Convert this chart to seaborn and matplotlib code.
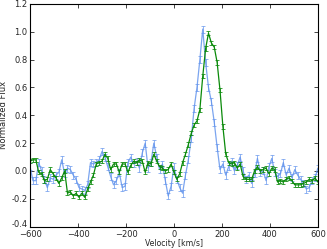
import numpy as np
import pandas as pd
import matplotlib
matplotlib.use("Agg")
import matplotlib.pyplot as plt
import matplotlib.transforms as mtransforms
import seaborn as sns

# velocity grid [km/s]
velocity = [-600, -588, -576, -564, -552, -540, -528, -516, -504, -492,
            -480, -468, -456, -444, -432, -420, -408, -396, -384, -372,
            -360, -348, -336, -324, -312, -300, -288, -276, -264, -252,
            -240, -228, -216, -204, -192, -180, -168, -156, -144, -132,
            -120, -108, -96, -84, -72, -60, -48, -36, -24, -12,
            0, 12, 24, 36, 48, 60, 72, 84, 96, 108,
            120, 132, 144, 156, 168, 180, 192, 204, 216, 228,
            240, 252, 264, 276, 288, 300, 312, 324, 336, 348,
            360, 372, 384, 396, 408, 420, 432, 444, 456, 468,
            480, 492, 504, 516, 528, 540, 552, 564, 576, 588, 600]

flux_blue = [0.03, -0.07, -0.07, 0.06, 0.00, -0.06, -0.12, -0.05, -0.06, -0.03,
             -0.01, 0.08, -0.02, 0.02, 0.01, -0.03, -0.06, -0.12, -0.13, -0.14,
             -0.10, 0.06, 0.05, 0.06, 0.08, 0.14, 0.10, 0.03, -0.04, -0.10,
             -0.07, -0.01, -0.12, -0.11, 0.06, 0.10, 0.05, 0.07, 0.02, 0.13,
             0.20, 0.02, 0.06, 0.20, 0.10, 0.01, 0.05, -0.07, -0.18, -0.11,
             0.03, -0.06, -0.12, -0.16, -0.03, 0.08, 0.23, 0.45, 0.60, 0.80,
             1.02, 0.78, 0.60, 0.50, 0.35, 0.17, 0.01, 0.05, -0.03, 0.03,
             0.07, 0.00, 0.04, 0.10, 0.00, -0.06, -0.03, -0.09, -0.02, 0.09,
             -0.01, 0.00, -0.07, 0.03, 0.09, -0.01, -0.04, -0.02, 0.06, -0.03,
             0.02, -0.05, 0.01, -0.03, -0.06, -0.09, -0.13, -0.12, -0.07, -0.05, 0.02]

flux_green = [0.07, 0.08, 0.08, -0.01, -0.02, -0.07, -0.06, 0.01, -0.02, -0.05,
              -0.09, -0.05, 0.00, -0.16, -0.15, -0.18, -0.16, -0.19, -0.16, -0.19,
              -0.13, -0.08, -0.03, 0.05, 0.06, 0.07, 0.12, 0.09, 0.01, 0.05,
              0.05, -0.01, 0.05, 0.05, -0.01, 0.04, 0.07, 0.06, 0.08, 0.07,
              -0.01, 0.06, 0.05, 0.12, 0.07, 0.03, 0.02, 0.00, 0.01, 0.05,
              -0.01, -0.06, -0.02, 0.06, 0.12, 0.19, 0.27, 0.33, 0.36, 0.44,
              0.68, 0.88, 0.99, 0.92, 0.89, 0.78, 0.58, 0.32, 0.12, 0.06,
              0.05, 0.06, 0.02, 0.05, -0.04, -0.06, -0.06, -0.06, 0.00, 0.03,
              0.00, 0.01, 0.02, -0.02, 0.02, 0.01, -0.08, -0.07, -0.08, -0.06,
              -0.05, -0.07, -0.10, -0.10, -0.10, -0.09, -0.08, -0.06, -0.07, -0.05, -0.08]

err_blue = 0.025
err_green = 0.015

BLUE = "#6495ed"
GREEN = "#0a8a0a"

sns.set_style("ticks")
plt.rcParams["font.family"] = ["DejaVu Sans"]

df = pd.DataFrame({"velocity": velocity, "blue": flux_blue, "green": flux_green})

fig = plt.figure(figsize=(3.27, 2.49), dpi=100)
ax = fig.add_axes([0.092, 0.090, 0.880, 0.894])

ax.errorbar(df["velocity"], df["blue"], yerr=err_blue, fmt="none",
            ecolor=BLUE, elinewidth=0.7, capsize=1.5, capthick=0.7, alpha=0.7)
sns.lineplot(data=df, x="velocity", y="blue", ax=ax, color=BLUE, lw=0.9, alpha=0.85)
ax.errorbar(df["velocity"], df["green"], yerr=err_green, fmt="none",
            ecolor=GREEN, elinewidth=0.7, capsize=1.5, capthick=0.7, alpha=0.8)
sns.lineplot(data=df, x="velocity", y="green", ax=ax, color=GREEN, lw=0.9)

ax.set_xlim(-600, 600)
ax.set_ylim(-0.4, 1.2)
ax.set_xticks([-600, -400, -200, 0, 200, 400, 600])
ax.set_yticks([-0.4, -0.2, 0.0, 0.2, 0.4, 0.6, 0.8, 1.0, 1.2])
ax.set_yticklabels([f"{t:.1f}" for t in ax.get_yticks()])
ax.tick_params(direction="in", top=True, right=True, labelsize=6, length=3, width=0.6)
ax.tick_params(axis="x", pad=2.5)
ax.tick_params(axis="y", pad=2)
for s in ax.spines.values():
    s.set_linewidth(0.8)
    s.set_color("black")

# nudge the bottom y label up a little so it clears the -600 label
lowest = ax.get_yticklabels()[0]
lowest.set_transform(lowest.get_transform()
                     + mtransforms.ScaledTranslation(0, 3 / 100, fig.dpi_scale_trans))

ax.set_xlabel("Velocity [km/s]", fontsize=5.6, va="top")
ax.set_ylabel("Normalized Flux", fontsize=6, labelpad=2)
ax.xaxis.set_label_coords(0.5, -0.057)

fig.savefig("out.png", dpi=100)
